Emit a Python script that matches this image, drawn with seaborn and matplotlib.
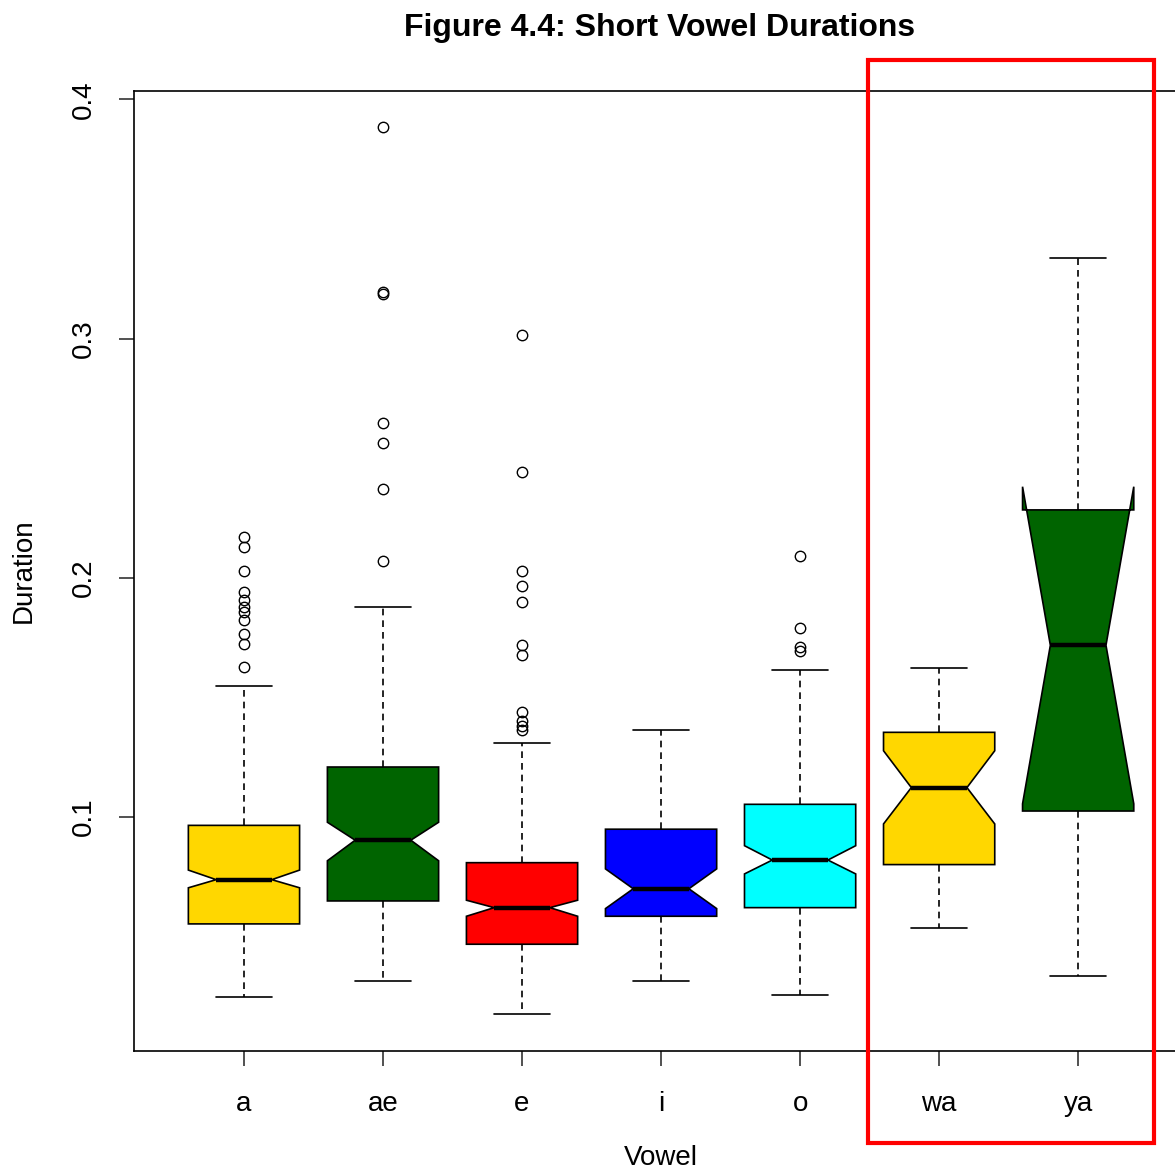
import matplotlib
matplotlib.use("Agg")
import matplotlib.pyplot as plt
from matplotlib.patches import Rectangle
import seaborn as sns

# ---- data ----
vowels = ["a", "ae", "e", "i", "o", "wa", "ya"]
colors = ["#FFD700", "#006400", "#FF0000", "#0000FF", "#00FFFF", "#FFD700", "#006400"]
q1 = [0.0553, 0.0649, 0.0468, 0.0585, 0.0621, 0.0801, 0.1025]
med = [0.0738, 0.0903, 0.0621, 0.0700, 0.0820, 0.1123, 0.1718]
q3 = [0.0965, 0.1209, 0.0809, 0.0949, 0.1053, 0.1354, 0.2284]
whislo = [0.0246, 0.0313, 0.0176, 0.0316, 0.0254, 0.0535, 0.0335]
whishi = [0.1548, 0.1880, 0.1310, 0.1364, 0.1615, 0.1622, 0.3338]
cilo = [0.0704, 0.0817, 0.0585, 0.0617, 0.0762, 0.0971, 0.1055]
cihi = [0.0778, 0.0978, 0.0652, 0.0783, 0.0880, 0.1277, 0.2381]
fliers_a = [0.2170, 0.2130, 0.2030, 0.1942, 0.1908, 0.1877, 0.1859, 0.1824, 0.1764, 0.1724, 0.1629]
fliers_ae = [0.3886, 0.3196, 0.3187, 0.2648, 0.2564, 0.2372, 0.2072]
fliers_e = [0.3016, 0.2443, 0.2027, 0.1966, 0.1899, 0.1719, 0.1678, 0.1437, 0.1401, 0.1381, 0.1362]
fliers_i = []
fliers_o = [0.2093, 0.1792, 0.1712, 0.1696]
fliers_wa = []
fliers_ya = []
fliers = [fliers_a, fliers_ae, fliers_e, fliers_i, fliers_o, fliers_wa, fliers_ya]
yticks = [0.1, 0.2, 0.3, 0.4]
ytick_labels = ["0.1", "0.2", "0.3", "0.4"]

# ---- style ----
sns.set_theme(style="white")
plt.rcParams["font.family"] = ["Liberation Sans", "DejaVu Sans"]

W, H = 1175, 1173
fig = plt.figure(figsize=(W / 100, H / 100), dpi=100)
ax = fig.add_axes([134 / W, 1 - 1051 / H, (1188 - 134) / W, (1051 - 91) / H])

stats = []
for i, v in enumerate(vowels):
    stats.append(dict(label=v, q1=q1[i], med=med[i], q3=q3[i],
                      whislo=whislo[i], whishi=whishi[i],
                      cilo=cilo[i], cihi=cihi[i], fliers=fliers[i]))

positions = list(range(1, len(vowels) + 1))
bp = ax.bxp(stats, positions=positions, widths=0.8, shownotches=True,
            patch_artist=True, manage_ticks=False,
            boxprops=dict(edgecolor="black", linewidth=1.2),
            whiskerprops=dict(color="black", linewidth=1.2, linestyle=(0, (4, 3))),
            capprops=dict(color="black", linewidth=1.2),
            medianprops=dict(color="black", linewidth=3.2, solid_capstyle="butt"),
            flierprops=dict(marker="o", markerfacecolor="none", markeredgecolor="black",
                            markersize=7.5, markeredgewidth=1.0, linestyle="none"))
for patch, c in zip(bp["boxes"], colors):
    patch.set_facecolor(c)

ax.set_xlim(0.209, 7.79)
ax.set_ylim(0.00216, 0.40355)
ax.set_xticks(positions)
ax.set_xticklabels(vowels)
ax.set_yticks(yticks)
ax.set_yticklabels(ytick_labels, rotation=90, va="center")
ax.tick_params(axis="both", which="both", direction="out", length=11, width=1.2,
               color="#333333", labelsize=20, labelcolor="black",
               bottom=True, left=True, top=False, right=False)
ax.tick_params(axis="x", pad=18)
ax.tick_params(axis="y", pad=16)
for s in ax.spines.values():
    s.set_color("black")
    s.set_linewidth(1.2)
    s.set_visible(True)

ax.set_xlabel("Vowel", fontsize=20, color="black", labelpad=20)
ax.set_ylabel("Duration", fontsize=20, color="black", labelpad=24)
fig.text(660 / W, 1 - 28 / H, "Figure 4.4: Short Vowel Durations", ha="center", va="center",
         fontsize=23, fontweight="bold", color="black")

# red highlight rectangle around wa / ya
fig.patches.append(Rectangle((868 / W, 1 - 1143 / H), (1154 - 868) / W, (1143 - 60) / H,
                             transform=fig.transFigure, fill=False, edgecolor="#FF0000",
                             linewidth=3.0, zorder=10))

fig.savefig("out.png", dpi=100)
